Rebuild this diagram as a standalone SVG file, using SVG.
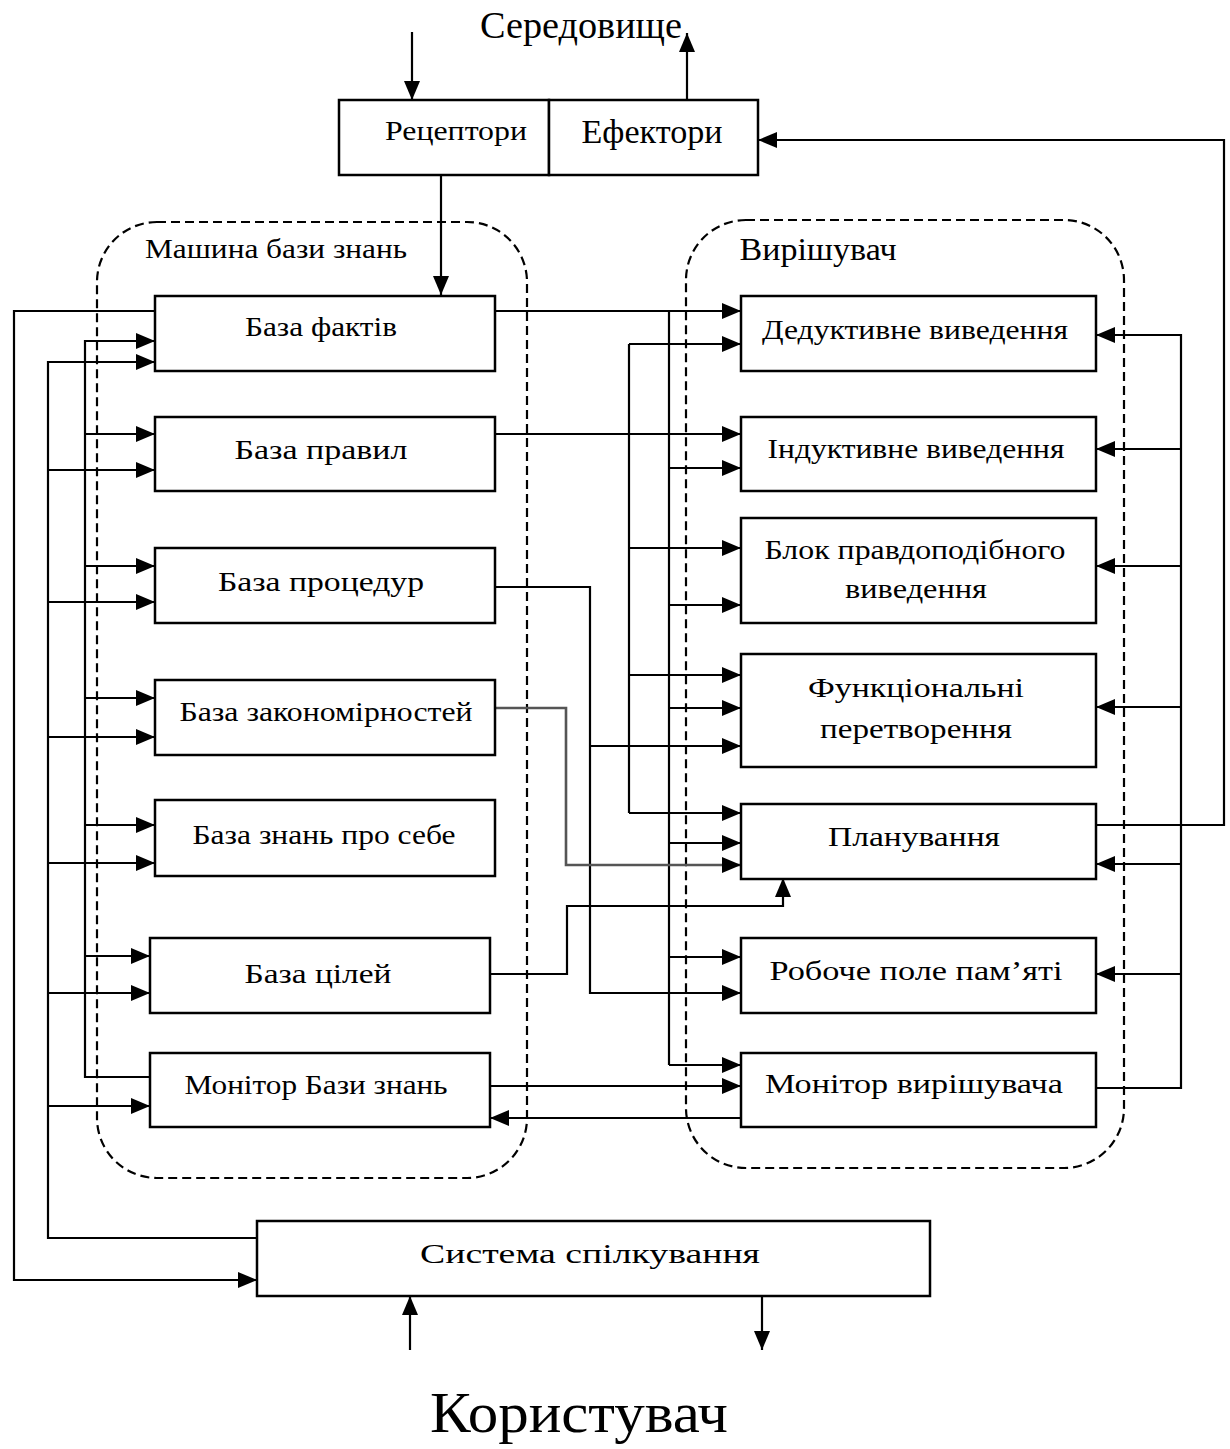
<svg xmlns="http://www.w3.org/2000/svg" width="1230" height="1449" viewBox="0 0 1230 1449">
<style>
.box{fill:#fff;stroke:#000;stroke-width:2.5}
.grp{fill:none;stroke:#000;stroke-width:2.2;stroke-dasharray:9 5}
.t{font-family:"Liberation Serif","Times New Roman",serif;font-size:28px;fill:#000;text-anchor:middle}
.c{fill:none;stroke:#000;stroke-width:2.2}
.a{marker-end:url(#ah)}
.g{stroke:#555;stroke-width:2.6}
</style>
<defs>
<marker id="ah" markerUnits="userSpaceOnUse" markerWidth="22" markerHeight="18" refX="19" refY="8" orient="auto">
<path d="M0,0 L19,8 L0,16 z" fill="#000"/>
</marker>
</defs>
<rect width="1230" height="1449" fill="#fff"/>

<g id="containers">
<rect id="kb-machine" class="grp" x="97" y="222" width="430" height="956" rx="60" ry="60"/>
<rect id="solver" class="grp" x="686" y="220" width="438" height="948" rx="60" ry="60"/>
<text class="t" x="276" y="258" textLength="262" lengthAdjust="spacingAndGlyphs">Машина бази знань</text>
<text class="t" x="818" y="260" textLength="157" lengthAdjust="spacingAndGlyphs" style="font-size:31px">Вирішувач</text>
</g>

<g id="connectors">
<path class="c a" d="M412,32 V100"/>
<path class="c a" d="M687,100 V33"/>
<path class="c a" d="M441,175 V295"/>
<path class="c a" d="M1096,825 H1224 V140 H758"/>
<path class="c a" d="M155,311 H14 V1280 H257"/>
<path class="c a" d="M257,1238 H48 V362 H155"/>
<path class="c a" d="M48,470 H155"/>
<path class="c a" d="M48,602 H155"/>
<path class="c a" d="M48,737 H155"/>
<path class="c a" d="M48,863 H155"/>
<path class="c a" d="M48,993 H150"/>
<path class="c a" d="M48,1106 H150"/>
<path class="c a" d="M150,1077 H85 V341 H155"/>
<path class="c a" d="M85,434 H155"/>
<path class="c a" d="M85,566 H155"/>
<path class="c a" d="M85,698 H155"/>
<path class="c a" d="M85,825 H155"/>
<path class="c a" d="M85,956 H150"/>
<path class="c a" d="M495,311 H741"/>
<path class="c" d="M669,311 V1065"/>
<path class="c a" d="M669,468 H741"/>
<path class="c a" d="M669,605 H741"/>
<path class="c a" d="M669,708 H741"/>
<path class="c a" d="M669,843 H741"/>
<path class="c a" d="M669,957 H741"/>
<path class="c a" d="M669,1065 H741"/>
<path class="c a" d="M495,434 H741"/>
<path class="c" d="M629,344 V813"/>
<path class="c a" d="M629,344 H741"/>
<path class="c a" d="M629,548 H741"/>
<path class="c a" d="M629,675 H741"/>
<path class="c a" d="M629,813 H741"/>
<path class="c a" d="M495,587 H590 V993 H741"/>
<path class="c a" d="M590,746 H741"/>
<path class="c g a" d="M495,708 H566 V865 H741"/>
<path class="c a" d="M490,974 H567 V906 H783 V878"/>
<path class="c a" d="M490,1086 H741"/>
<path class="c a" d="M741,1118 H490"/>
<path class="c a" d="M1096,1088 H1181 V335 H1096"/>
<path class="c a" d="M1181,449 H1096"/>
<path class="c a" d="M1181,566 H1096"/>
<path class="c a" d="M1181,707 H1096"/>
<path class="c a" d="M1181,864 H1096"/>
<path class="c a" d="M1181,974 H1096"/>
<path class="c a" d="M410,1350 V1296"/>
<path class="c a" d="M762,1296 V1350"/>
</g>

<g id="environment"><text class="t" x="581" y="38" textLength="202" lengthAdjust="spacingAndGlyphs" style="font-size:37px">Середовище</text></g>
<g id="receptors"><rect class="box" x="339" y="100" width="210" height="75"/><text class="t" x="456" y="140" textLength="142" lengthAdjust="spacingAndGlyphs" style="font-size:27px">Рецептори</text></g>
<g id="effectors"><rect class="box" x="549" y="100" width="209" height="75"/><text class="t" x="652" y="143" textLength="141" lengthAdjust="spacingAndGlyphs" style="font-size:33px">Ефектори</text></g>

<g id="facts"><rect class="box" x="155" y="296" width="340" height="75"/><text class="t" x="321" y="336" textLength="152" lengthAdjust="spacingAndGlyphs">База фактів</text></g>
<g id="rules"><rect class="box" x="155" y="417" width="340" height="74"/><text class="t" x="321" y="459" textLength="173" lengthAdjust="spacingAndGlyphs">База правил</text></g>
<g id="procedures"><rect class="box" x="155" y="548" width="340" height="75"/><text class="t" x="321" y="591" textLength="206" lengthAdjust="spacingAndGlyphs">База процедур</text></g>
<g id="patterns"><rect class="box" x="155" y="680" width="340" height="75"/><text class="t" x="326" y="721" textLength="293" lengthAdjust="spacingAndGlyphs">База закономірностей</text></g>
<g id="self"><rect class="box" x="155" y="800" width="340" height="76"/><text class="t" x="324" y="844" textLength="263" lengthAdjust="spacingAndGlyphs">База знань про себе</text></g>
<g id="goals"><rect class="box" x="150" y="938" width="340" height="75"/><text class="t" x="318" y="983" textLength="147" lengthAdjust="spacingAndGlyphs">База цілей</text></g>
<g id="kb-monitor"><rect class="box" x="150" y="1053" width="340" height="74"/><text class="t" x="316" y="1094" textLength="263" lengthAdjust="spacingAndGlyphs">Монітор Бази знань</text></g>

<g id="deductive"><rect class="box" x="741" y="296" width="355" height="75"/><text class="t" x="915" y="339" textLength="306" lengthAdjust="spacingAndGlyphs">Дедуктивне виведення</text></g>
<g id="inductive"><rect class="box" x="741" y="417" width="355" height="74"/><text class="t" x="916" y="458" textLength="297" lengthAdjust="spacingAndGlyphs">Індуктивне виведення</text></g>
<g id="plausible"><rect class="box" x="741" y="518" width="355" height="105"/><text class="t" x="915" y="559" textLength="301" lengthAdjust="spacingAndGlyphs">Блок правдоподібного</text><text class="t" x="916" y="598" textLength="142" lengthAdjust="spacingAndGlyphs">виведення</text></g>
<g id="functional"><rect class="box" x="741" y="654" width="355" height="113"/><text class="t" x="916" y="697" textLength="216" lengthAdjust="spacingAndGlyphs">Функціональні</text><text class="t" x="916" y="738" textLength="192" lengthAdjust="spacingAndGlyphs">перетворення</text></g>
<g id="planning"><rect class="box" x="741" y="804" width="355" height="75"/><text class="t" x="914" y="846" textLength="172" lengthAdjust="spacingAndGlyphs">Планування</text></g>
<g id="workspace"><rect class="box" x="741" y="938" width="355" height="75"/><text class="t" x="916" y="980" textLength="293" lengthAdjust="spacingAndGlyphs">Робоче поле пам’яті</text></g>
<g id="solver-monitor"><rect class="box" x="741" y="1053" width="355" height="74"/><text class="t" x="914" y="1093" textLength="298" lengthAdjust="spacingAndGlyphs">Монітор вирішувача</text></g>

<g id="communication"><rect class="box" x="257" y="1221" width="673" height="75"/><text class="t" x="590" y="1263" textLength="340" lengthAdjust="spacingAndGlyphs">Система спілкування</text></g>
<g id="user"><text class="t" x="579" y="1432" textLength="298" lengthAdjust="spacingAndGlyphs" style="font-size:57px">Користувач</text></g>
</svg>
